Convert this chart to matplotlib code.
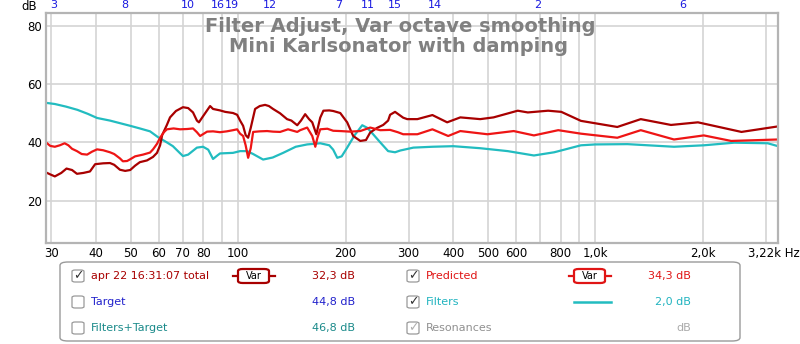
import numpy as np
import matplotlib
matplotlib.use('Agg')
import matplotlib.pyplot as plt
from matplotlib.patches import FancyBboxPatch
from matplotlib.lines import Line2D
from matplotlib.transforms import blended_transform_factory

# measured total (dark red)
total_f = [29.2, 29.8, 30.7, 32.0, 33.1, 34.3, 35.4, 36.9, 38.5, 39.8, 41.9, 43.8, 45.0,
           46.7, 48.3, 49.9, 51.5, 53.1, 55.6, 57.8, 59.3, 60.5, 61.3, 63.2, 64.5, 67.0,
           70.1, 72.5, 74.8, 76.7, 77.7, 79.8, 83.5, 85.1, 89.0, 92.0, 96.8, 99.4, 101.3,
           103.3, 105.0, 106.7, 108.5, 111.6, 115, 119.0, 122.0, 125.3, 131.1, 137.1, 141,
           146.4, 150, 154.1, 158, 161.3, 165.6, 169.8, 173.3, 180, 184.6, 193.2, 202.0,
           210.0, 219.8, 228, 234.3, 245, 254.8, 263, 266.4, 275, 289.8, 297.5, 317.6,
           349.9, 384.8, 418.8, 476.1, 518.8, 606.4, 647.2, 737.5, 802.9, 911.4, 1152,
           1340, 1628, 1937, 2564, 3245]
total_db = [29.5, 29.0, 28.3, 29.5, 31.0, 30.5, 29.2, 29.5, 30.0, 32.5, 32.8, 32.9, 32.3,
            30.6, 30.2, 30.5, 32.0, 33.2, 33.8, 35.0, 36.4, 39.0, 42.5, 46.0, 48.6, 50.8,
            52.1, 51.8, 50.3, 47.5, 46.9, 49.0, 52.5, 51.5, 51.0, 50.5, 50.1, 49.5, 47.5,
            45.7, 42.5, 41.6, 45.0, 51.5, 52.5, 52.9, 52.5, 51.5, 50.0, 48.0, 47.5,
            45.9, 47.5, 49.7, 48.0, 46.9, 42.8, 48.5, 50.9, 51.0, 50.8, 50.1, 46.9,
            42.2, 40.5, 40.8, 43.4, 45.0, 46.0, 47.5, 49.5, 50.5, 48.5, 48.0, 48.0,
            49.4, 46.9, 48.6, 48.0, 48.6, 50.9, 50.3, 50.9, 50.5, 47.4, 45.3,
            48.0, 46.0, 46.9, 43.6, 45.5]

# predicted (red)
pred_f = [29.2, 29.8, 30.7, 31.7, 32.7, 33.5, 34.3, 35.4, 36.5, 37.8, 39.0, 40.3, 41.9,
          43.8, 45.0, 46.7, 47.6, 48.9, 49.9, 51.5, 54.2, 56.7, 57.8, 59.3, 60.5, 62.0,
          63.2, 66.0, 68.8, 72.0, 74.8, 76.7, 78.3, 81.9, 85.1, 89.0, 93.0, 96.8, 99.4,
          101.3, 103.3, 105.0, 106.7, 108.5, 110.2, 115, 120.6, 125.3, 131.1, 138.0,
          146.4, 149.2, 156.1, 161.3, 164.5, 166.7, 169.8, 177.8, 184.6, 193.2, 206.0,
          219.8, 234.3, 250.0, 266.4, 280, 289.8, 317.6, 349.9, 387.3, 418.8, 498.8,
          590.8, 673.1, 787.3, 911.4, 1152, 1340, 1660, 2012, 2400, 3245]
pred_db = [39.7, 38.8, 38.5, 39.0, 39.7, 39.0, 37.8, 37.0, 36.0, 35.8, 36.8, 37.6, 37.3,
           36.6, 36.0, 34.5, 33.5, 33.6, 34.2, 35.2, 35.8, 36.5, 37.6, 39.5, 41.6, 43.5,
           44.5, 44.8, 44.5, 44.6, 44.8, 43.5, 42.2, 43.7, 43.8, 43.5, 43.8, 44.2, 44.5,
           43.0, 42.2, 39.0, 34.7, 38.0, 43.6, 43.8, 43.9, 43.7, 43.6, 44.5,
           43.6, 44.2, 45.1, 42.2, 38.5, 41.5, 44.5, 44.7, 44.0, 43.9, 43.7,
           43.9, 45.1, 44.2, 44.3, 43.5, 42.8, 42.8, 44.5, 42.2, 43.9, 42.8,
           43.9, 42.4, 44.2, 43.0, 41.6, 44.2, 41.0, 42.4, 40.5, 41.0]

# filters (cyan)
filt_f = [29.0, 30.7, 33.0, 35.5, 38.0, 40.3, 43.8, 49.9, 53.1, 56.7, 59.7, 63.2, 65.7,
          68.5, 70.1, 72.5, 76.7, 79.8, 82.5, 85.1, 87.5, 89.0, 96.8, 101.3, 106.0,
          110.2, 117.5, 125, 133.7, 145, 156.1, 169.8, 180, 184.6, 189.5, 195, 202.0,
          212, 222.6, 230, 238.8, 250, 263.0, 275, 284.3, 309.4, 349.9, 400.1, 476.1,
          568.3, 673.1, 767.0, 911.4, 1000, 1230, 1660, 2012, 2447, 3037, 3245]
filt_db = [53.6, 53.2, 52.3, 51.2, 49.8, 48.4, 47.5, 45.7, 44.8, 43.8, 41.8, 40.0, 38.7,
           36.5, 35.3, 35.8, 38.2, 38.5, 37.5, 34.3, 35.5, 36.2, 36.4, 37.0, 37.0,
           36.0, 34.1, 34.8, 36.4, 38.5, 39.3, 39.7, 39.0, 37.5, 34.7, 35.2, 38.2,
           42.5, 45.9, 45.0, 42.8, 40.0, 37.0, 36.6, 37.2, 38.2, 38.5, 38.7, 38.0,
           37.0, 35.5, 36.6, 39.0, 39.3, 39.4, 38.5, 39.0, 39.9, 39.7, 38.7]

# filter numbers along the top edge
filter_ids = ['3', '8', '10', '16', '19', '12', '7', '11', '15', '14', '2', '6']
filter_hz = [30.5, 48.3, 72.4, 87.5, 96.0, 123, 191, 231, 275, 356, 688, 1753]

tick_hz = [30, 40, 50, 60, 70, 80, 100, 200, 300, 400, 500, 600, 800, 1000, 2000]
tick_txt = ['30', '40', '50', '60', '70', '80', '100', '200', '300', '400', '500', '600',
            '800', '1,0k', '2,0k']
grid_hz = [30, 40, 50, 60, 70, 80, 90, 100, 200, 300, 400, 500, 600, 700, 800, 900,
           1000, 2000, 3000]

W, H = 800, 344
fig = plt.figure(figsize=(8, 3.44), dpi=100)
fig.patch.set_facecolor('white')


def px(x, y):
    return x / W, 1 - y / H


ax = fig.add_axes([46 / W, 1 - 243 / H, 732 / W, 230 / H])
ax.set_xscale('log')
ax.set_xlim(29.0, 3245)
ax.set_ylim(5.4, 84.5)

# grid drawn as plain lines so every frequency gets one
for g in grid_hz:
    ax.axvline(g, color='#d4d4d4', lw=1.2, zorder=0.5)
for g in [20, 40, 60, 80]:
    ax.axhline(g, color='#d4d4d4', lw=1.2, zorder=0.5)

ax.plot(filt_f, filt_db, color='#22bcc0', lw=1.6)
ax.plot(total_f, total_db, color='#a80000', lw=1.6)
ax.plot(pred_f, pred_db, color='#ee1515', lw=1.6)

ax.xaxis.set_minor_locator(matplotlib.ticker.NullLocator())
ax.set_xticks(tick_hz)
ax.set_xticklabels(tick_txt, fontsize=8.5)
ax.set_yticks([20, 40, 60, 80])
ax.set_yticklabels(['20', '40', '60', '80'], fontsize=8.5)
ax.tick_params(which='both', length=0, pad=3)
for s in ax.spines.values():
    s.set_color('#b4b4b4')
    s.set_linewidth(1.6)

fig.text(*px(29, 6), 'dB', fontsize=8.5, ha='center', va='center')
fig.text(*px(748, 253), '3,22k Hz', fontsize=8.5, ha='left', va='center')

tr = blended_transform_factory(ax.transData, fig.transFigure)
for fid, fhz in zip(filter_ids, filter_hz):
    ax.text(fhz, 1 - 5 / H, fid, transform=tr, color='#1a1ae0', fontsize=8,
            ha='center', va='center')

fig.text(0.5, 1 - 26 / H, 'Filter Adjust, Var octave smoothing', ha='center', va='center',
         fontsize=14, fontweight='bold', color='#808080')
fig.text(0.498, 1 - 47 / H, 'Mini Karlsonator with damping', ha='center', va='center',
         fontsize=14, fontweight='bold', color='#808080')

# legend panel
x0, y0 = px(60, 341)
x1, y1 = px(740, 262)
fig.patches.append(FancyBboxPatch((x0, y0), x1 - x0, y1 - y0, transform=fig.transFigure,
                                  boxstyle='round,pad=0,rounding_size=0.01',
                                  fc='white', ec='#9a9a9a', lw=1.0, zorder=0))

rows = [
    (72, 276, True, 'apr 22 16:31:07 total', '#a80000', 355, '32,3 dB', 'var', '#a80000'),
    (72, 302, False, 'Target', '#2222cc', 355, '44,8 dB', None, None),
    (72, 328, False, 'Filters+Target', '#1a8a8a', 355, '46,8 dB', None, None),
    (407, 276, True, 'Predicted', '#e01515', 691, '34,3 dB', 'var', '#e01515'),
    (407, 302, True, 'Filters', '#22b4c0', 691, '2,0 dB', 'line', '#22bcc0'),
    (407, 328, True, 'Resonances', '#909090', 691, 'dB', None, None),
]
for cx, cy, checked, name, col, vx, val, sample, scol in rows:
    bx, by = px(cx, cy + 6)
    fig.patches.append(FancyBboxPatch((bx, by), 12 / W, 12 / H, transform=fig.transFigure,
                                      boxstyle='round,pad=0,rounding_size=0.004',
                                      fc='white', ec='#9a9a9a', lw=0.9, zorder=1))
    if checked:
        ccol = '#b0b0b0' if name == 'Resonances' else '#333333'
        fig.text(*px(cx + 6, cy), '\u2713', fontsize=9, ha='center', va='center', color=ccol)
    fig.text(*px(cx + 19, cy), name, fontsize=8, color=col, ha='left', va='center')
    vcol = '#aaaaaa' if name == 'Resonances' else col
    fig.text(*px(vx, cy), val, fontsize=8, color=vcol, ha='right', va='center')
    sx = 233 if cx < 300 else 569
    if sample == 'var':
        fig.lines.append(Line2D([sx / W, (sx + 42) / W], [1 - cy / H] * 2,
                                transform=fig.transFigure, color=scol, lw=1.6, zorder=2))
        bx2, by2 = px(sx + 5, cy + 7)
        fig.patches.append(FancyBboxPatch((bx2, by2), 31 / W, 14 / H,
                                          transform=fig.transFigure,
                                          boxstyle='round,pad=0,rounding_size=0.006',
                                          fc='white', ec=scol, lw=1.6, zorder=2.5))
        fig.text(*px(sx + 21, cy), 'Var', fontsize=7, ha='center', va='center', zorder=3)
    elif sample == 'line':
        fig.lines.append(Line2D([(sx + 5) / W, (sx + 42) / W], [1 - cy / H] * 2,
                                transform=fig.transFigure, color=scol, lw=1.8, zorder=2))

fig.savefig('out.png', dpi=100)
